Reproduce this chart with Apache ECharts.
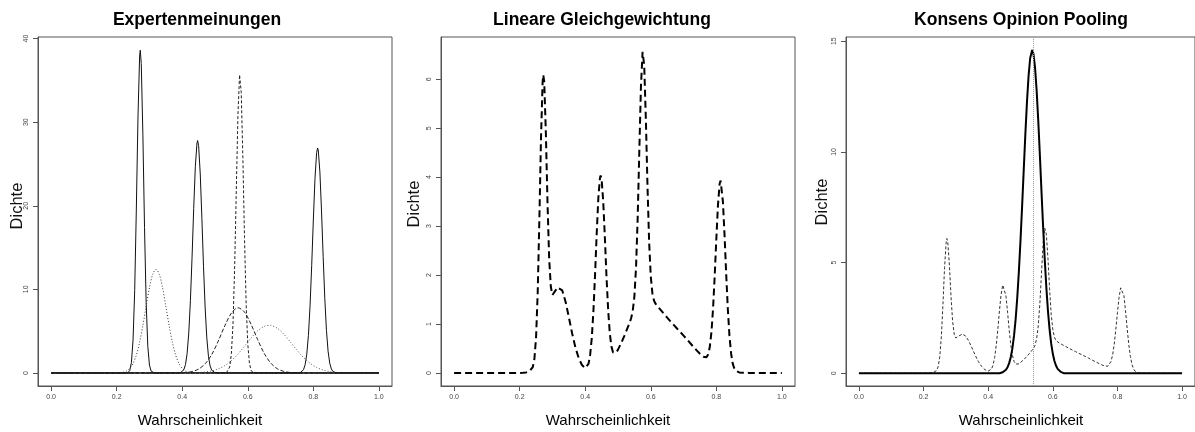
<!DOCTYPE html>
<html>
<head>
<meta charset="utf-8">
<script src="https://cdn.jsdelivr.net/npm/echarts@6/dist/echarts.min.js"></script>
<style>html,body{margin:0;padding:0;background:#fff}#c{width:1195px;height:432px}</style>
</head>
<body>
<div id="c"></div>
<script>
// ---------- data ----------
const panelTitles = ['Expertenmeinungen', 'Lineare Gleichgewichtung', 'Konsens Opinion Pooling'];
const xAxisTitle = 'Wahrscheinlichkeit';
const yAxisTitle = 'Dichte';
const xTicks = [0, 0.2, 0.4, 0.6, 0.8, 1.0];
const yTicks1 = [0, 10, 20, 30, 40];
const yTicks2 = [0, 1, 2, 3, 4, 5, 6];
const yTicks3 = [0, 5, 10, 15];

// expert densities (panel 1)
const e1X = [0,0.225,0.23,0.235,0.24,0.245,0.25,0.255,0.26,0.265,0.27,0.272,0.275,0.28,0.285,0.29,0.295,0.30,0.305,0.31,0.315,0.32,1];
const e1Y = [0,0,0.01,0.06,0.31,1.24,3.94,9.88,19.6,30.6,37.9,38.6,37.0,28.5,17.4,8.38,3.19,0.96,0.23,0.04,0.01,0,0];
const e2X = [0,0.19,0.20,0.21,0.22,0.23,0.24,0.25,0.26,0.27,0.28,0.29,0.30,0.31,0.32,0.33,0.34,0.35,0.36,0.37,0.38,0.39,0.40,0.41,0.42,0.43,0.44,0.45,1];
const e2Y = [0,0,0.011,0.034,0.094,0.238,0.544,1.133,2.14,3.66,5.68,7.99,10.2,11.81,12.4,11.81,10.2,7.99,5.68,3.66,2.14,1.133,0.544,0.238,0.094,0.034,0.011,0,0];
const e3X = [0,0.385,0.39,0.395,0.40,0.405,0.41,0.415,0.42,0.425,0.43,0.435,0.44,0.445,0.447,0.45,0.455,0.46,0.465,0.47,0.475,0.48,0.485,0.49,0.495,0.50,0.505,0.51,1];
const e3Y = [0,0,0.011,0.041,0.135,0.395,1.02,2.36,4.79,8.66,13.84,19.65,24.7,27.5,27.8,27.2,23.8,18.5,12.7,7.77,4.2,2.01,0.854,0.322,0.107,0.032,0.008,0,0];
const e4X = [0,0.525,0.53,0.535,0.54,0.545,0.55,0.555,0.56,0.565,0.57,0.575,0.576,0.58,0.585,0.59,0.595,0.60,0.605,0.61,0.615,0.62,0.625,1];
const e4Y = [0,0,0.007,0.039,0.186,0.724,2.31,5.98,12.67,21.9,30.9,35.66,35.8,33.55,25.8,16.2,8.27,3.46,1.18,0.329,0.075,0.014,0,0];
const e5X = [0,0.37,0.39,0.41,0.43,0.45,0.47,0.49,0.51,0.53,0.55,0.57,0.59,0.61,0.63,0.65,0.67,0.69,0.71,0.73,0.75,0.77,1];
const e5Y = [0,0,0.014,0.054,0.171,0.467,1.10,2.21,3.82,5.65,7.17,7.8,7.28,5.82,4.0,2.35,1.19,0.513,0.19,0.06,0.016,0,0];
const e6X = [0,0.39,0.41,0.43,0.45,0.47,0.49,0.51,0.53,0.55,0.57,0.59,0.61,0.63,0.65,0.665,0.67,0.69,0.71,0.73,0.75,0.77,0.79,0.81,0.83,0.85,0.87,0.89,0.91,0.93,1];
const e6Y = [0,0,0.0075,0.02,0.051,0.118,0.25,0.491,0.887,1.48,2.27,3.21,4.18,5.03,5.57,5.7,5.69,5.35,4.64,3.70,2.73,1.85,1.16,0.667,0.354,0.173,0.078,0.033,0.0125,0,0];
const e7X = [0,0.75,0.755,0.76,0.765,0.77,0.775,0.78,0.785,0.79,0.795,0.80,0.805,0.81,0.813,0.815,0.82,0.825,0.83,0.835,0.84,0.845,0.85,0.855,0.86,0.865,0.87,0.875,1];
const e7Y = [0,0,0.012,0.044,0.14,0.395,0.995,2.24,4.49,8.04,12.85,18.29,23.24,26.35,26.9,26.66,24.05,19.37,13.9,8.91,5.09,2.6,1.18,0.479,0.173,0.056,0.016,0,0];

// linear pool (panels 2 and 3)
const poolX = [0,0.20,0.21,0.22,0.225,0.23,0.235,0.24,0.245,0.25,0.255,0.26,0.265,0.27,0.272,0.275,0.28,0.285,0.29,0.295,0.30,0.305,0.31,0.315,0.32,0.33,0.34,0.35,0.36,0.37,0.38,0.39,0.40,0.41,0.415,0.42,0.425,0.43,0.435,0.44,0.445,0.447,0.45,0.455,0.46,0.465,0.47,0.475,0.48,0.485,0.49,0.495,0.50,0.51,0.52,0.53,0.535,0.54,0.545,0.55,0.555,0.56,0.565,0.57,0.575,0.576,0.58,0.585,0.59,0.595,0.60,0.605,0.61,0.615,0.62,0.63,0.64,0.65,0.66,0.67,0.68,0.69,0.70,0.71,0.72,0.73,0.74,0.75,0.755,0.76,0.765,0.77,0.775,0.78,0.785,0.79,0.795,0.80,0.805,0.81,0.813,0.815,0.82,0.825,0.83,0.835,0.84,0.845,0.85,0.855,0.86,0.865,0.87,0.88,0.89,0.90,1.0];
const poolY = [0,0.002,0.005,0.013,0.022,0.035,0.061,0.122,0.291,0.725,1.636,3.106,4.776,5.937,6.09,5.944,4.883,3.46,2.339,1.761,1.594,1.619,1.693,1.75,1.771,1.687,1.457,1.141,0.811,0.523,0.306,0.163,0.102,0.188,0.370,0.713,1.267,2.009,2.845,3.576,3.987,4.036,3.96,3.493,2.759,1.957,1.284,0.81,0.539,0.42,0.397,0.425,0.478,0.616,0.771,0.935,1.019,1.118,1.269,1.566,2.151,3.163,4.529,5.853,6.561,6.587,6.28,5.183,3.813,2.673,1.971,1.626,1.476,1.411,1.366,1.29,1.21,1.131,1.056,0.983,0.909,0.838,0.764,0.69,0.613,0.537,0.463,0.393,0.359,0.331,0.313,0.321,0.379,0.531,0.829,1.314,1.981,2.74,3.43,3.86,3.93,3.89,3.506,2.827,2.036,1.316,0.763,0.401,0.193,0.089,0.042,0.022,0.013,0.007,0.005,0.003,0];

// consensus density (panel 3)
const consX = [0,0.435,0.44,0.445,0.45,0.455,0.46,0.465,0.47,0.475,0.48,0.485,0.49,0.495,0.50,0.505,0.51,0.515,0.52,0.525,0.53,0.536,0.54,0.545,0.55,0.555,0.56,0.565,0.57,0.575,0.58,0.585,0.59,0.595,0.60,0.605,0.61,0.615,0.62,0.625,0.63,0.635,1];
const consY = [0,0,0.026,0.05,0.092,0.162,0.278,0.46,0.736,1.137,1.70,2.45,3.42,4.61,6.0,7.55,9.18,10.79,12.25,13.44,14.24,14.6,14.44,13.81,12.76,11.4,9.84,8.2,6.61,5.15,3.87,2.81,1.98,1.34,0.88,0.557,0.341,0.2,0.115,0.064,0.034,0,0];
const consensusMean = 0.536;

// ---------- chart ----------
const zip = (xs, ys) => xs.map((x, i) => [x, ys[i]]);
const chart = echarts.init(document.getElementById('c'), null, {renderer: 'canvas'});
const gridLefts = [38, 441, 846];
const yRanges = [[-1.555, 40.18], [-0.265, 6.863], [-0.573, 15.19]];
const yTickSets = [yTicks1, yTicks2, yTicks3];
const axisColor = '#555';
const labelStyle = {fontSize: 7, color: '#444', fontFamily: 'Liberation Sans, Arial, sans-serif'};

function line(gi, xs, ys, color, width, type, extra) {
  return Object.assign({
    type: 'line', xAxisIndex: gi, yAxisIndex: gi, data: zip(xs, ys),
    showSymbol: false, symbol: 'none', silent: true, clip: true,
    lineStyle: {color: color, width: width, type: type}
  }, extra || {});
}

const option = {
  animation: false,
  backgroundColor: '#ffffff',
  grid: gridLefts.map(l => ({left: l, top: 37, width: 354, height: 349, show: true, borderColor: axisColor, borderWidth: 1, backgroundColor: 'transparent'})),
  xAxis: [0, 1, 2].map(i => ({
    type: 'value', gridIndex: i, min: -0.04, max: 1.04,
    axisLine: {show: true, onZero: false, lineStyle: {color: axisColor}},
    splitLine: {show: false},
    axisTick: {show: true, length: 5, lineStyle: {color: axisColor}, customValues: xTicks},
    axisLabel: Object.assign({customValues: xTicks, margin: 8, formatter: v => v.toFixed(1)}, labelStyle)
  })),
  yAxis: [0, 1, 2].map(i => ({
    type: 'value', gridIndex: i, min: yRanges[i][0], max: yRanges[i][1],
    axisLine: {show: true, onZero: false, lineStyle: {color: axisColor}},
    splitLine: {show: false},
    axisTick: {show: true, length: 5, lineStyle: {color: axisColor}, customValues: yTickSets[i]},
    axisLabel: Object.assign({customValues: yTickSets[i], margin: 8, rotate: 90, formatter: v => String(v)}, labelStyle)
  })),
  series: [
    line(0, e1X, e1Y, '#111', 1, 'solid'),
    line(0, e2X, e2Y, '#333', 1, [1, 2], {smooth: 0.3}),
    line(0, e3X, e3Y, '#111', 1, 'solid'),
    line(0, e4X, e4Y, '#222', 1, [3, 2]),
    line(0, e5X, e5Y, '#222', 1, [4, 2], {smooth: 0.3}),
    line(0, e6X, e6Y, '#555', 1, [1, 2], {smooth: 0.3}),
    line(0, e7X, e7Y, '#111', 1, 'solid'),
    line(1, poolX, poolY, '#000', 2, [7, 4]),
    line(2, poolX, poolY, '#333', 1, [3, 2]),
    line(2, consX, consY, '#000', 2, 'solid', {
      markLine: {silent: true, symbol: 'none', label: {show: false},
        lineStyle: {color: '#999', type: [1, 1], width: 1},
        data: [{xAxis: consensusMean}]}
    })
  ],
  graphic: [
    {type: 'text', x: 197, y: 20, style: {text: panelTitles[0], font: 'bold 17.5px "Liberation Sans", Arial, sans-serif', fill: '#000', align: 'center', verticalAlign: 'middle'}},
    {type: 'text', x: 602, y: 20, style: {text: panelTitles[1], font: 'bold 17.5px "Liberation Sans", Arial, sans-serif', fill: '#000', align: 'center', verticalAlign: 'middle'}},
    {type: 'text', x: 1021, y: 20, style: {text: panelTitles[2], font: 'bold 17.5px "Liberation Sans", Arial, sans-serif', fill: '#000', align: 'center', verticalAlign: 'middle'}},
    {type: 'text', x: 200, y: 421, style: {text: xAxisTitle, font: '15px "Liberation Sans", Arial, sans-serif', fill: '#000', align: 'center', verticalAlign: 'middle'}},
    {type: 'text', x: 608, y: 421, style: {text: xAxisTitle, font: '15px "Liberation Sans", Arial, sans-serif', fill: '#000', align: 'center', verticalAlign: 'middle'}},
    {type: 'text', x: 1021, y: 421, style: {text: xAxisTitle, font: '15px "Liberation Sans", Arial, sans-serif', fill: '#000', align: 'center', verticalAlign: 'middle'}},
    {type: 'text', x: 17, y: 206, rotation: Math.PI / 2, style: {text: yAxisTitle, font: '16.5px "Liberation Sans", Arial, sans-serif', fill: '#111', align: 'center', verticalAlign: 'middle'}},
    {type: 'text', x: 414, y: 204, rotation: Math.PI / 2, style: {text: yAxisTitle, font: '16.5px "Liberation Sans", Arial, sans-serif', fill: '#111', align: 'center', verticalAlign: 'middle'}},
    {type: 'text', x: 822, y: 202, rotation: Math.PI / 2, style: {text: yAxisTitle, font: '16.5px "Liberation Sans", Arial, sans-serif', fill: '#111', align: 'center', verticalAlign: 'middle'}}
  ]
};
chart.setOption(option);
</script>
</body>
</html>
